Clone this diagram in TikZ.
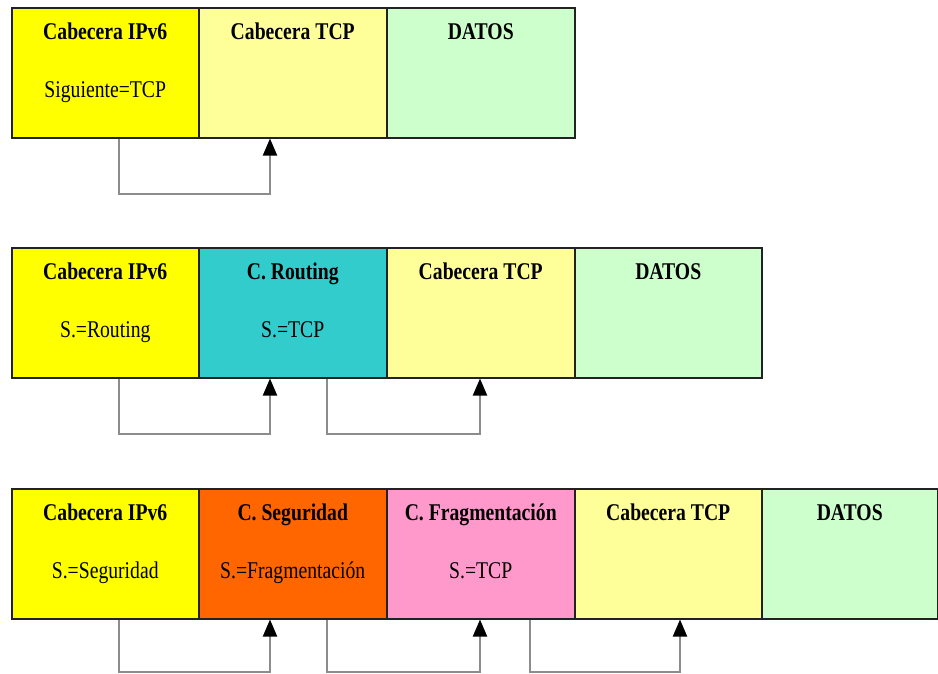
\documentclass[tikz,border=0pt]{standalone}
\usepackage{fontspec}
\setmainfont{Liberation Serif}[FakeStretch=0.82]
\usetikzlibrary{arrows.meta,calc}

\definecolor{ipv6}{HTML}{FFFF00}
\definecolor{tcp}{HTML}{FFFF99}
\definecolor{datos}{HTML}{CCFFCC}
\definecolor{routing}{HTML}{33CCCC}
\definecolor{seguridad}{HTML}{FF6600}
\definecolor{fragm}{HTML}{FF99CC}
\definecolor{edge}{HTML}{222222}
\definecolor{linkgray}{HTML}{8C8C8C}

\tikzset{
  hdr/.style={draw=edge, line width=1.5pt, rectangle, inner sep=0pt,
              minimum height=130pt, anchor=north west},
  ttl/.style={anchor=base, inner sep=0pt, font=\fontsize{24}{28}\selectfont\bfseries},
  sub/.style={anchor=base, inner sep=0pt, font=\fontsize{24}{28}\selectfont},
  link/.style={draw=linkgray, line width=2pt,
               -{Triangle[width=14pt,length=17pt,color=black]}},
}

% one header box: name, left x, top y, width, fill, title, second line
\newcommand\hdrbox[7]{%
  \node[hdr, fill=#5, minimum width=#4pt] (#1) at (#2,#3) {};
  \node[ttl] (#1t) at ([yshift=-32pt]#1.north) {#6};
  \node[sub] (#1s) at ([yshift=-90pt]#1.north) {#7};
}

\begin{document}
\begin{tikzpicture}[x=1pt,y=-1pt]
\useasboundingbox (0,0) rectangle (938,673);

% first packet: IPv6 + TCP + data
\hdrbox{a1}{11}{7}{187}{ipv6}{Cabecera IPv6}{Siguiente=TCP}
\hdrbox{a2}{198}{7}{188}{tcp}{Cabecera TCP}{}
\hdrbox{a3}{386}{7}{188}{datos}{DATOS}{}

% second packet: with routing header
\hdrbox{b1}{11}{247}{187}{ipv6}{Cabecera IPv6}{S.=Routing}
\hdrbox{b2}{198}{247}{188}{routing}{C. Routing}{S.=TCP}
\hdrbox{b3}{386}{247}{188}{tcp}{Cabecera TCP}{}
\hdrbox{b4}{574}{247}{187}{datos}{DATOS}{}

% third packet: security and fragmentation headers
\hdrbox{c1}{11}{488}{187}{ipv6}{Cabecera IPv6}{S.=Seguridad}
\hdrbox{c2}{198}{488}{188}{seguridad}{C. Seguridad}{S.=Fragmentación}
\hdrbox{c3}{386}{488}{188}{fragm}{C. Fragmentación}{S.=TCP}
\hdrbox{c4}{574}{488}{187}{tcp}{Cabecera TCP}{}
\hdrbox{c5}{761}{488}{176}{datos}{DATOS}{}

% "next header" pointers
\coordinate (a1o) at ($(a1.south west)+(108,0)$);
\coordinate (a2i) at ($(a2.south west)+(72,0)$);
\draw[link] (a1o) -- ++(0,55) -| (a2i);

\coordinate (b1o) at ($(b1.south west)+(108,0)$);
\coordinate (b2i) at ($(b2.south west)+(72,0)$);
\coordinate (b2o) at ($(b2.south west)+(129,0)$);
\coordinate (b3i) at ($(b3.south west)+(94,0)$);
\draw[link] (b1o) -- ++(0,55) -| (b2i);
\draw[link] (b2o) -- ++(0,55) -| (b3i);

\coordinate (c1o) at ($(c1.south west)+(108,0)$);
\coordinate (c2i) at ($(c2.south west)+(72,0)$);
\coordinate (c2o) at ($(c2.south west)+(129,0)$);
\coordinate (c3i) at ($(c3.south west)+(94,0)$);
\coordinate (c3o) at ($(c3.south west)+(144,0)$);
\coordinate (c4i) at ($(c4.south west)+(106,0)$);
\draw[link] (c1o) -- ++(0,52.5) -| (c2i);
\draw[link] (c2o) -- ++(0,52.5) -| (c3i);
\draw[link] (c3o) -- ++(0,52.5) -| (c4i);
\end{tikzpicture}
\end{document}
